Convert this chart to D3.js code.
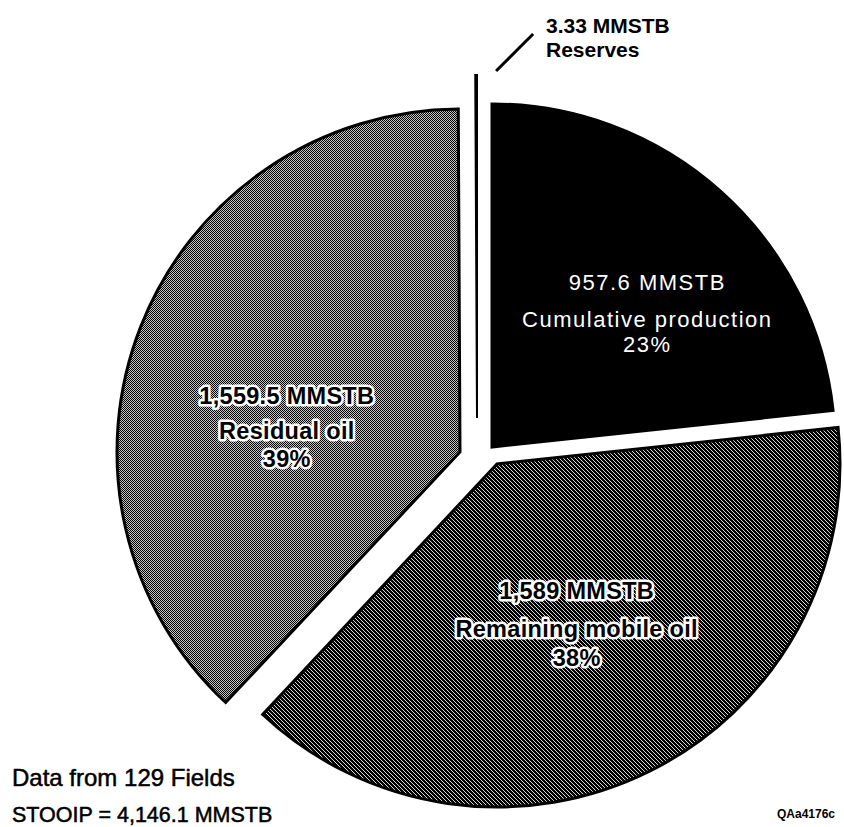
<!DOCTYPE html>
<html>
<head>
<meta charset="utf-8">
<script src="https://cdn.jsdelivr.net/npm/d3@7"></script>
<style>
  html, body { margin: 0; padding: 0; background: #ffffff; }
  svg { display: block; }
</style>
</head>
<body>
<svg id="chart" width="844" height="827"></svg>
<script>
// ---- data ----
const categories = ["Cumulative production", "Remaining mobile oil", "Residual oil", "Reserves"];
const values = [957.6, 1589, 1559.5, 3.33];
const valueLabels = ["957.6 MMSTB", "1,589 MMSTB", "1,559.5 MMSTB", "3.33 MMSTB"];
const percentLabels = ["23%", "38%", "39%", ""];
const noteLines = ["Data from 129 Fields", "STOOIP = 4,146.1 MMSTB"];
const figureId = "QAa4176c";

// ---- layout ----
const W = 844, H = 827;
const R = 343;
const center = [480, 450];
const explode = [[12, -3], [17, 14], [-20, 2], [-3, -32]];
const labelRadius = [180, 174, 186];
const labelNudge = [[35, 2], [2, 4], [0, 45]];
const lineDy = [[-25, 12, 37], [-25, 13, 42], [-25, 10, 38]];

const svg = d3.select("#chart");
svg.append("rect").attr("width", W).attr("height", H).attr("fill", "#fff");

const defs = svg.append("defs");
const pLight = defs.append("pattern").attr("id", "pLight")
  .attr("patternUnits", "userSpaceOnUse").attr("width", 2).attr("height", 2);
pLight.append("rect").attr("width", 2).attr("height", 2).attr("fill", "#c4c4c4");
pLight.append("rect").attr("x", 0).attr("y", 0).attr("width", 1).attr("height", 1).attr("fill", "#000");
pLight.append("rect").attr("x", 1).attr("y", 1).attr("width", 1).attr("height", 1).attr("fill", "#000");

const pDark = defs.append("pattern").attr("id", "pDark")
  .attr("patternUnits", "userSpaceOnUse").attr("width", 4).attr("height", 4);
pDark.append("rect").attr("width", 4).attr("height", 4).attr("fill", "#000");
[[0,0],[1,1],[2,2],[3,3]].forEach(([x,y]) =>
  pDark.append("rect").attr("x", x).attr("y", y).attr("width", 1).attr("height", 1).attr("fill", "#d8d8d8"));

const fills = ["#000", "url(#pDark)", "url(#pLight)", "#000"];

const pie = d3.pie().sort(null).value(d => d);
const arcs = pie(values);
const arc = d3.arc().innerRadius(0).outerRadius(R);

const g = svg.append("g").attr("transform", `translate(${center[0]},${center[1]})`);

g.selectAll("path.slice").data(arcs).join("path")
  .attr("class", "slice")
  .attr("transform", (d, i) => `translate(${explode[i][0]},${explode[i][1]})`)
  .attr("d", arc)
  .attr("fill", (d, i) => fills[i])
  .attr("stroke", "#000")
  .attr("stroke-width", (d, i) => i === 3 ? 2 : 3)
  .attr("stroke-linejoin", "miter");

// ---- slice labels ----
const labelStyles = [
  { color: "#fff", weight: "normal", size: 22, spacing: 1.5, halo: false },
  { color: "#000", weight: "bold", size: 23.5, spacing: 0.3, halo: true },
  { color: "#000", weight: "bold", size: 23.5, spacing: 0.3, halo: true }
];
[0, 1, 2].forEach(i => {
  const a = arcs[i];
  const la = d3.arc().innerRadius(labelRadius[i]).outerRadius(labelRadius[i]);
  const c = la.centroid(a);
  const x = center[0] + explode[i][0] + c[0] + labelNudge[i][0];
  const y = center[1] + explode[i][1] + c[1] + labelNudge[i][1];
  const st = labelStyles[i];
  const lines = [valueLabels[i], categories[i], percentLabels[i]];
  const t = svg.append("text")
    .attr("x", x).attr("y", y)
    .attr("text-anchor", "middle")
    .attr("font-family", "'Liberation Sans', Arial, Helvetica, sans-serif")
    .attr("font-size", st.size)
    .attr("font-weight", st.weight)
    .attr("letter-spacing", st.spacing)
    .attr("fill", st.color);
  if (st.halo) {
    t.attr("stroke", "#fff").attr("stroke-width", 5)
     .attr("stroke-linejoin", "round").attr("paint-order", "stroke");
  }
  lines.forEach((s, k) => {
    t.append("tspan").attr("x", x).attr("y", y + lineDy[i][k]).text(s);
  });
});

// ---- reserves callout ----
const resArc = arcs[3];
const outer = d3.arc().innerRadius(R + 8).outerRadius(R + 8).centroid(resArc);
const lx0 = center[0] + explode[3][0] + outer[0] + 20;
const ly0 = center[1] + explode[3][1] + outer[1] + 4;
svg.append("line")
  .attr("x1", lx0).attr("y1", ly0)
  .attr("x2", lx0 + 37).attr("y2", ly0 - 37)
  .attr("stroke", "#000").attr("stroke-width", 3);
const rt = svg.append("text")
  .attr("font-family", "'Liberation Sans', Arial, Helvetica, sans-serif")
  .attr("font-size", 21).attr("font-weight", "bold").attr("fill", "#000");
rt.append("tspan").attr("x", 546).attr("y", 33).text(valueLabels[3]);
rt.append("tspan").attr("x", 546).attr("y", 57).text(categories[3]);

// ---- notes ----
svg.append("text").attr("x", 12).attr("y", 786)
  .attr("font-family", "'Liberation Sans', Arial, Helvetica, sans-serif")
  .attr("font-size", 24).attr("fill", "#000")
  .attr("stroke", "#000").attr("stroke-width", 0.5).text(noteLines[0]);
svg.append("text").attr("x", 12).attr("y", 822)
  .attr("font-family", "'Liberation Sans', Arial, Helvetica, sans-serif")
  .attr("font-size", 21.5).attr("fill", "#000")
  .attr("stroke", "#000").attr("stroke-width", 0.5).text(noteLines[1]);
svg.append("text").attr("x", 835).attr("y", 818).attr("text-anchor", "end")
  .attr("font-family", "'Liberation Sans', Arial, Helvetica, sans-serif")
  .attr("font-size", 12).attr("font-weight", "bold").attr("fill", "#000").text(figureId);
</script>
</body>
</html>
